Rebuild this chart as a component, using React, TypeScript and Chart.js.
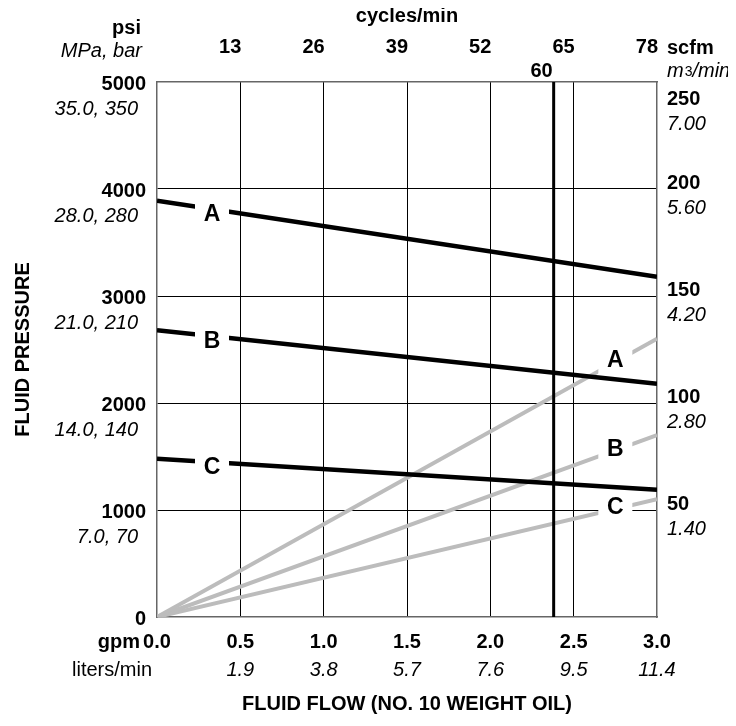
import React, { useEffect, useRef } from 'react';
import { Chart, registerables } from 'chart.js';

Chart.register(...registerables);

const FONT = "'Liberation Sans', Arial, Helvetica, sans-serif";

// ---- axis ticks / labels ----
const flowTicks = [0, 0.5, 1, 1.5, 2, 2.5, 3];
const gpmLabels = ['0.0', '0.5', '1.0', '1.5', '2.0', '2.5', '3.0'];
const litersLabels = ['', '1.9', '3.8', '5.7', '7.6', '9.5', '11.4'];
const cycleLabels = ['', '13', '26', '39', '52', '65', '78'];
const psiTicks = [0, 1000, 2000, 3000, 4000, 5000];
const psiLabels = ['0', '1000', '2000', '3000', '4000', '5000'];
const mpaLabels = ['', '7.0, 70', '14.0, 140', '21.0, 210', '28.0, 280', '35.0, 350'];
const scfmTicks = [50, 100, 150, 200, 250];
const scfmLabels = ['50', '100', '150', '200', '250'];
const m3Labels = ['1.40', '2.80', '4.20', '5.60', '7.00'];

// ---- series ----
const curveNames = ['A', 'B', 'C'];
const pressureFlow = [0, 3];
const pressureA = [3890, 3180];
const pressureB = [2680, 2180];
const pressureC = [1480, 1190];
const airFlow = [0, 3];
const airA = [0, 130];
const airB = [0, 85];
const airC = [0, 55];
const limitFlow = 2.38;
const limitLabel = '60';
const pressureLabelFlow = 0.33;
const airLabelFlow = 2.75;

const pressureSeries = [pressureA, pressureB, pressureC];
const airSeries = [airA, airB, airC];

const bold = (s: number) => `bold ${s}px ${FONT}`;
const ital = (s: number) => `italic ${s}px ${FONT}`;
const reg = (s: number) => `${s}px ${FONT}`;

const interp = (xs: number[], ys: number[], x: number) =>
  ys[0] + ((ys[1] - ys[0]) * (x - xs[0])) / (xs[1] - xs[0]);

const textPlugin = {
  id: 'chartTexts',
  afterDatasetsDraw(chart: any) {
    const { ctx, scales } = chart;
    const sx = scales.x;
    const sy = scales.y;
    const sr = scales.yR;
    ctx.save();
    ctx.font = bold(23);
    ctx.textAlign = 'center';
    ctx.textBaseline = 'middle';
    curveNames.forEach((name, i) => {
      // black pressure curve labels
      const px = sx.getPixelForValue(pressureLabelFlow);
      const py = sy.getPixelForValue(interp(pressureFlow, pressureSeries[i], pressureLabelFlow)) + 5;
      ctx.fillStyle = '#fff';
      ctx.fillRect(px - 17, py - 14, 34, 28);
      ctx.fillStyle = '#000';
      ctx.fillText(name, px, py + 1);
      // grey air curve labels
      const ax = sx.getPixelForValue(airLabelFlow);
      const ay = sr.getPixelForValue(interp(airFlow, airSeries[i], airLabelFlow)) - 2;
      ctx.fillStyle = '#fff';
      ctx.fillRect(ax - 17, ay - 15, 34, 30);
      ctx.fillStyle = '#000';
      ctx.fillText(name, ax, ay + 1);
    });
    ctx.restore();
  },
  afterDraw(chart: any) {
    const { ctx, chartArea: ca, scales } = chart;
    const sx = scales.x;
    const sy = scales.y;
    const sr = scales.yR;
    ctx.save();
    ctx.fillStyle = '#000';
    ctx.textBaseline = 'alphabetic';

    // left axis
    ctx.textAlign = 'right';
    psiTicks.forEach((v, i) => {
      const py = sy.getPixelForValue(v);
      ctx.font = bold(20);
      ctx.fillText(psiLabels[i], ca.left - 11, py + 7.5);
      if (mpaLabels[i]) {
        ctx.font = ital(20);
        ctx.fillText(mpaLabels[i], ca.left - 19, py + 33);
      }
    });
    ctx.font = bold(20);
    ctx.fillText('psi', ca.left - 16, ca.top - 48);
    ctx.font = ital(20);
    ctx.fillText('MPa, bar', ca.left - 15, ca.top - 25);

    // bottom axis
    ctx.textAlign = 'center';
    flowTicks.forEach((v, i) => {
      const px = sx.getPixelForValue(v);
      ctx.font = bold(20);
      ctx.fillText(gpmLabels[i], px, ca.bottom + 31);
      if (litersLabels[i]) {
        ctx.font = ital(20);
        ctx.fillText(litersLabels[i], px, ca.bottom + 59);
      }
    });
    ctx.textAlign = 'right';
    ctx.font = bold(20);
    ctx.fillText('gpm', ca.left - 17, ca.bottom + 31);
    ctx.font = reg(20);
    ctx.fillText('liters/min', ca.left - 5, ca.bottom + 59);
    ctx.textAlign = 'center';
    ctx.font = bold(20);
    ctx.fillText('FLUID FLOW (NO. 10 WEIGHT OIL)', (ca.left + ca.right) / 2, ca.bottom + 93);

    // top axis
    ctx.textAlign = 'right';
    ctx.font = bold(20);
    flowTicks.forEach((v, i) => {
      if (!cycleLabels[i]) return;
      ctx.fillText(cycleLabels[i], sx.getPixelForValue(v) + 1, ca.top - 29);
    });
    ctx.fillText(limitLabel, sx.getPixelForValue(limitFlow) - 1, ca.top - 5);
    ctx.textAlign = 'center';
    ctx.fillText('cycles/min', (ca.left + ca.right) / 2, ca.top - 60);

    // right axis
    ctx.textAlign = 'left';
    const rx = ca.right + 10;
    scfmTicks.forEach((v, i) => {
      const base = Math.max(sr.getPixelForValue(v), ca.top + 23);
      ctx.font = bold(20);
      ctx.fillText(scfmLabels[i], rx, base);
      ctx.font = ital(20);
      ctx.fillText(m3Labels[i], rx, base + 25);
    });
    ctx.font = bold(20);
    ctx.fillText('scfm', rx, ca.top - 28);
    let mx = rx;
    ctx.font = ital(20);
    ctx.fillText('m', mx, ca.top - 5);
    mx += ctx.measureText('m').width + 1;
    ctx.font = reg(14);
    ctx.fillText('3', mx, ca.top - 6);
    mx += ctx.measureText('3').width;
    ctx.font = ital(20);
    ctx.fillText('/min', mx, ca.top - 5);

    // left title
    ctx.save();
    ctx.translate(ca.left - 134, (ca.top + ca.bottom) / 2);
    ctx.rotate(-Math.PI / 2);
    ctx.textAlign = 'center';
    ctx.textBaseline = 'middle';
    ctx.font = bold(20);
    ctx.fillText('FLUID PRESSURE', 0, 0);
    ctx.restore();

    ctx.restore();
  },
};

const BORDER = { display: true, color: '#666', width: 1.5 };

export default function App() {
  const canvasRef = useRef<HTMLCanvasElement | null>(null);

  useEffect(() => {
    if (!canvasRef.current) return;
    const pts = (xs: number[], ys: number[]) => xs.map((x, i) => ({ x, y: ys[i] }));
    const datasets: any[] = [];
    airSeries.forEach((s, i) => {
      datasets.push({
        label: 'air ' + curveNames[i],
        data: pts(airFlow, s),
        borderColor: '#bcbcbc',
        borderWidth: 4,
        pointRadius: 0,
        yAxisID: 'yR',
        xAxisID: 'x',
        order: 3,
      });
    });
    pressureSeries.forEach((s, i) => {
      datasets.push({
        label: 'pressure ' + curveNames[i],
        data: pts(pressureFlow, s),
        borderColor: '#000',
        borderWidth: 4.5,
        pointRadius: 0,
        yAxisID: 'y',
        xAxisID: 'x',
        order: 1,
      });
    });
    datasets.push({
      label: 'limit',
      data: [
        { x: limitFlow, y: psiTicks[0] },
        { x: limitFlow, y: psiTicks[psiTicks.length - 1] },
      ],
      borderColor: '#000',
      borderWidth: 3,
      pointRadius: 0,
      yAxisID: 'y',
      xAxisID: 'x',
      order: 2,
    });

    const edgeColor = (min: number, max: number) => (c: any) =>
      c.tick && (c.tick.value === min || c.tick.value === max) ? 'rgba(0,0,0,0)' : '#000';

    const chart = new Chart(canvasRef.current, {
      type: 'line',
      data: { datasets },
      options: {
        animation: false,
        responsive: true,
        maintainAspectRatio: false,
        layout: { padding: { left: 149, right: 79, top: 74, bottom: 109 } },
        plugins: { legend: { display: false }, tooltip: { enabled: false } },
        scales: {
          x: {
            type: 'linear',
            position: 'bottom',
            min: flowTicks[0],
            max: flowTicks[flowTicks.length - 1],
            ticks: { display: false, stepSize: 0.5 },
            grid: { color: edgeColor(0, 3), lineWidth: 1, drawTicks: false },
            border: BORDER,
          },
          xT: {
            type: 'linear',
            position: 'top',
            min: flowTicks[0],
            max: flowTicks[flowTicks.length - 1],
            ticks: { display: false },
            grid: { display: false, drawTicks: false },
            border: BORDER,
          },
          y: {
            type: 'linear',
            position: 'left',
            min: psiTicks[0],
            max: psiTicks[psiTicks.length - 1],
            ticks: { display: false, stepSize: 1000 },
            grid: { color: edgeColor(0, 5000), lineWidth: 1, drawTicks: false },
            border: BORDER,
          },
          yR: {
            type: 'linear',
            position: 'right',
            min: 0,
            max: scfmTicks[scfmTicks.length - 1],
            ticks: { display: false },
            grid: { display: false, drawTicks: false },
            border: BORDER,
          },
        },
      } as any,
      plugins: [textPlugin],
    });
    return () => chart.destroy();
  }, []);

  return (
    <div style={{ position: 'relative', width: 728, height: 718 }}>
      <canvas ref={canvasRef} />
    </div>
  );
}
